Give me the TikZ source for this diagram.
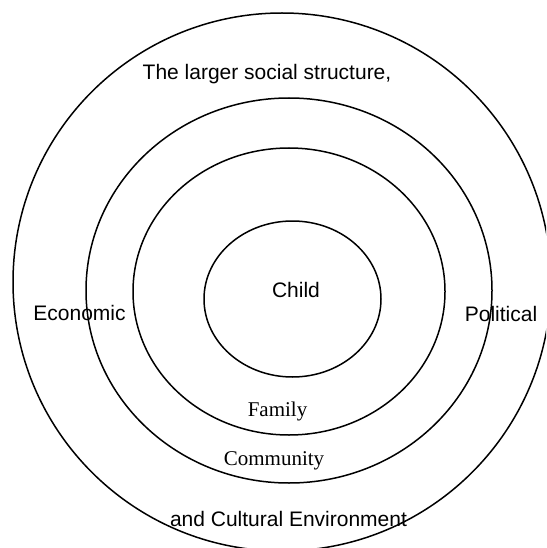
\documentclass[tikz,border=0pt]{standalone}
\usepackage{fontspec}
\setmainfont{Liberation Serif}
\setsansfont{Liberation Sans}
\begin{document}
\begin{tikzpicture}[x=1pt,y=-1pt,
  ring/.style={draw=black,line width=1.5pt},
  sanslabel/.style={font=\sffamily\fontsize{21}{25}\selectfont,inner sep=0pt,anchor=base},
  seriflabel/.style={font=\rmfamily\fontsize{21}{25}\selectfont,inner sep=0pt,anchor=base}]
\useasboundingbox (0,0) rectangle (546,548);
\begin{scope}
\clip (0,0) rectangle (546,548);
\draw[ring] (282,282) ellipse [x radius=269, y radius=269];
\draw[ring] (289,290.5) ellipse [x radius=203, y radius=192.5];
\draw[ring] (289,291.5) ellipse [x radius=156, y radius=143.5];
\draw[ring] (292.5,299) ellipse [x radius=88.5, y radius=78];
\end{scope}
\node[sanslabel] (larger) at (267,80) {The larger social structure,};
\node[sanslabel] (econ) at (79.5,320.5) {Economic};
\node[sanslabel] (polit) at (501,321) {Political};
\node[sanslabel] (child) at (296,297) {Child};
\node[seriflabel] (family) at (277.5,416.5) {Family};
\node[seriflabel] (comm) at (274,465) {Community};
\node[sanslabel] (env) at (288.5,526.5) {and Cultural Environment};
\end{tikzpicture}
\end{document}
